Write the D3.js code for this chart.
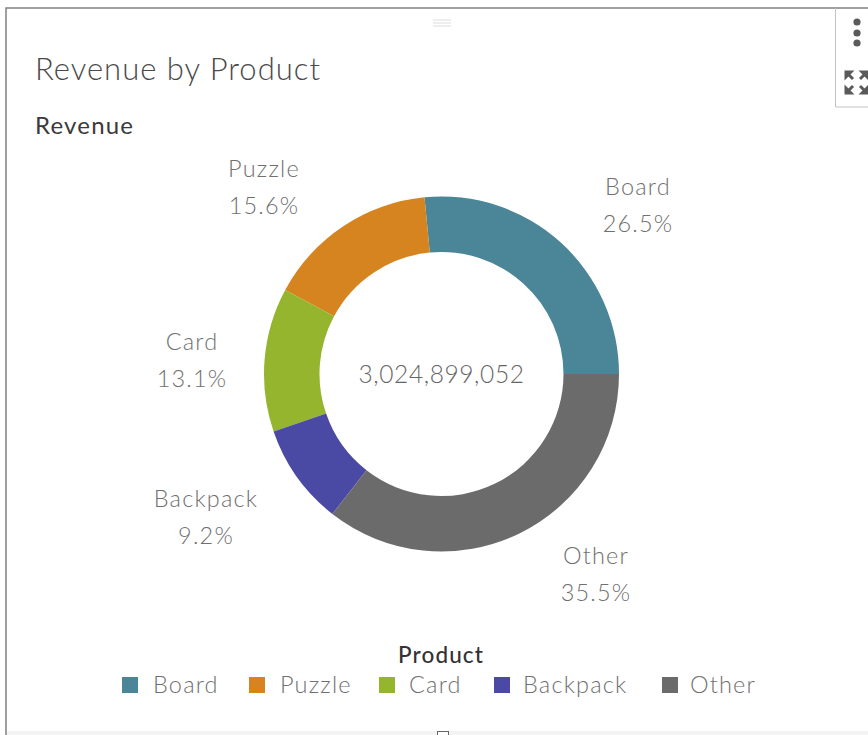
<!DOCTYPE html>
<html><head><meta charset="utf-8">
<script src="https://cdn.jsdelivr.net/npm/d3@7"></script>
<style>html,body{margin:0;padding:0;background:#fff;overflow:hidden}svg{display:block}text{font-family:Lato,"Open Sans",sans-serif}</style>
</head><body><svg id="c" width="868" height="735"></svg>
<script>
const categories=["Board","Puzzle","Card","Backpack","Other"];
const shares=[26.5,15.6,13.1,9.2,35.5];
const colors=["#4b8598","#d5841f","#95b52e","#4a4aa5","#6b6b6b"];
const total="3,024,899,052";
const titleText="Revenue by Product",subtitle="Revenue",legendTitle="Product";
const labelPos=[[638,205],[264,187],[192,360],[206,517],[596,574]];
const legendX=[122,249,379,494,662];
const legendTextX=[153,280,409,523,690];

const svg=d3.select("#c");
svg.append("path").attr("d","M6 735V8H868").attr("fill","none").attr("stroke","#808080").attr("stroke-width",1.5);
svg.append("path").attr("d","M868 107H835.5V8").attr("fill","none").attr("stroke","#c4c4c4").attr("stroke-width",1);
svg.append("rect").attr("x",7).attr("y",731).attr("width",861).attr("height",4).attr("fill","#f4f4f4");
[20,23,26].forEach(y=>svg.append("line").attr("x1",433).attr("x2",451).attr("y1",y).attr("y2",y).attr("stroke","#dcdcdc"));
svg.append("rect").attr("x",437.5).attr("y",731.5).attr("width",11).attr("height",8).attr("fill","#fff").attr("stroke","#666");
[22,33,43].forEach(y=>svg.append("circle").attr("cx",857).attr("cy",y).attr("r",3.6).attr("fill","#5a5a5a"));
const cx0=856.5,cy0=82.5;
[[-1,-1],[1,-1],[-1,1],[1,1]].forEach(([a,b])=>{
 svg.append("path").attr("fill","#5a5a5a")
  .attr("d",`M${cx0+a*12} ${cy0+b*12}h${-a*10}l${a*10} ${-b*10}z`);
 svg.append("line").attr("x1",cx0+a*9).attr("y1",cy0+b*9).attr("x2",cx0+a*3.5).attr("y2",cy0+b*3.5)
  .attr("stroke","#5a5a5a").attr("stroke-width",3);
});

svg.append("text").attr("x",35).attr("y",80).attr("font-size",31).attr("font-weight",300).attr("letter-spacing",1).attr("fill","#4a4a4a").text(titleText);
svg.append("text").attr("x",35).attr("y",134).attr("font-size",24).attr("font-weight",400).attr("letter-spacing",1.2).attr("fill","#3a3a3a").text(subtitle);

const pie=d3.pie().sort(null).value(d=>d).startAngle(Math.PI/2).endAngle(Math.PI/2-2*Math.PI);
const arc=d3.arc().innerRadius(122).outerRadius(177.5);
const g=svg.append("g").attr("transform","translate(441.5,374)");
g.selectAll("path").data(pie(shares)).join("path").attr("d",arc).attr("fill",(d,i)=>colors[i]);
g.append("text").attr("text-anchor","middle").attr("y",9).attr("font-size",24.5).attr("font-weight",300).attr("letter-spacing",0.6).attr("fill","#666").text(total);

categories.forEach((c,i)=>{
 const t=svg.append("text").attr("text-anchor","middle").attr("font-size",23.5).attr("font-weight",300).attr("letter-spacing",1.2).attr("fill","#707070");
 t.append("tspan").attr("x",labelPos[i][0]).attr("y",labelPos[i][1]-10).text(c);
 t.append("tspan").attr("x",labelPos[i][0]).attr("y",labelPos[i][1]+27).text(shares[i].toFixed(1)+"%");
 svg.append("rect").attr("x",legendX[i]).attr("y",677).attr("width",16).attr("height",16).attr("fill",colors[i]);
 svg.append("text").attr("x",legendTextX[i]).attr("y",693).attr("font-size",23.5).attr("font-weight",300).attr("letter-spacing",1.2).attr("fill","#707070").text(c);
});
svg.append("text").attr("x",441).attr("y",663).attr("text-anchor","middle").attr("font-size",22.5).attr("font-weight",500).attr("letter-spacing",1.1).attr("fill","#333").text(legendTitle);
</script></body></html>
